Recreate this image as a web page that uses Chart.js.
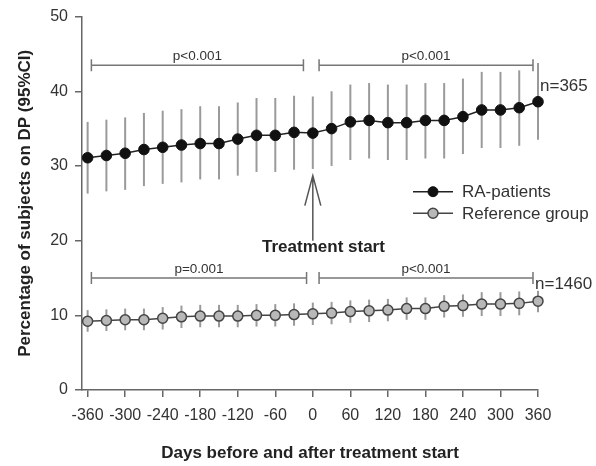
<!DOCTYPE html>
<html>
<head>
<meta charset="utf-8">
<script src="https://cdn.jsdelivr.net/npm/chart.js@4.4.1/dist/chart.umd.min.js"></script>
<style>
  html, body { margin: 0; padding: 0; background: #fff; }
  canvas { display: block; }
</style>
</head>
<body>
<canvas id="chart" width="596" height="466"></canvas>
<script>
// days relative to treatment start
const days = [-360, -330, -300, -270, -240, -210, -180, -150, -120, -90, -60, -30, 0,
              30, 60, 90, 120, 150, 180, 210, 240, 270, 300, 330, 360];

// RA-patients (% on DP, 95% CI)
const raValues = [31.1, 31.4, 31.7, 32.2, 32.5, 32.8, 33.0, 33.0, 33.6, 34.1, 34.1, 34.5, 34.4,
                  35.0, 35.9, 36.1, 35.8, 35.8, 36.1, 36.1, 36.6, 37.5, 37.5, 37.8, 38.6];
const raLower  = [26.3, 26.6, 26.8, 27.3, 27.6, 27.8, 28.2, 28.2, 28.7, 29.2, 29.2, 29.5, 29.6,
                  30.0, 30.8, 31.0, 30.8, 30.8, 31.0, 31.0, 31.6, 32.4, 32.4, 32.7, 33.5];
const raUpper  = [35.9, 36.2, 36.5, 37.1, 37.4, 37.6, 38.0, 38.0, 38.5, 39.1, 39.1, 39.4, 39.3,
                  40.0, 40.9, 41.1, 40.9, 40.9, 41.1, 41.1, 41.7, 42.6, 42.6, 42.8, 43.8];

// Reference group
const refValues = [9.2, 9.3, 9.4, 9.4, 9.6, 9.8, 9.9, 9.9, 9.9, 10.0, 10.0, 10.1, 10.2,
                   10.3, 10.5, 10.6, 10.7, 10.9, 10.9, 11.2, 11.3, 11.5, 11.5, 11.6, 11.9];
const refLower  = [7.8, 7.9, 8.0, 8.0, 8.1, 8.3, 8.4, 8.4, 8.4, 8.5, 8.5, 8.6, 8.7,
                   8.8, 9.0, 9.1, 9.2, 9.4, 9.4, 9.7, 9.8, 9.9, 9.9, 10.0, 10.4];
const refUpper  = [10.7, 10.8, 10.9, 10.9, 11.1, 11.3, 11.4, 11.4, 11.4, 11.5, 11.5, 11.6, 11.7,
                   11.8, 12.0, 12.1, 12.2, 12.4, 12.4, 12.7, 12.8, 13.1, 13.1, 13.2, 13.3];

const xTicks = [-360, -300, -240, -180, -120, -60, 0, 60, 120, 180, 240, 300, 360];
const yTicks = [0, 10, 20, 30, 40, 50];

// p-value brackets (day range, y level in %)
const brackets = [
  {from: -354, to: -15, y: 43.5, label: 'p<0.001'},
  {from: 10, to: 352, y: 43.5, label: 'p<0.001'},
  {from: -354, to: -10, y: 15.0, label: 'p=0.001'},
  {from: 10, to: 352, y: 15.0, label: 'p<0.001'}
];

const FONT = '"Liberation Sans", Arial, sans-serif';
const TEXT = '#333';

const errorBars = {
  id: 'errorBars',
  beforeDatasetsDraw(chart) {
    const {ctx, scales: {x, y}} = chart;
    chart.data.datasets.forEach(ds => {
      ctx.save();
      ctx.strokeStyle = ds.errorColor;
      ctx.lineWidth = 2;
      ds.data.forEach((p, i) => {
        const px = x.getPixelForValue(p.x);
        ctx.beginPath();
        ctx.moveTo(px, y.getPixelForValue(ds.lower[i]));
        ctx.lineTo(px, y.getPixelForValue(ds.upper[i]));
        ctx.stroke();
      });
      ctx.restore();
    });
  }
};

const extras = {
  id: 'extras',
  afterDatasetsDraw(chart) {
    const {ctx, scales: {x, y}} = chart;
    ctx.save();

    // brackets with p values
    ctx.strokeStyle = '#777';
    ctx.lineWidth = 1.5;
    ctx.fillStyle = TEXT;
    ctx.font = '13.5px ' + FONT;
    ctx.textAlign = 'center';
    ctx.textBaseline = 'middle';
    brackets.forEach(b => {
      const x1 = x.getPixelForValue(b.from), x2 = x.getPixelForValue(b.to);
      const py = y.getPixelForValue(b.y);
      ctx.beginPath();
      ctx.moveTo(x1, py - 6); ctx.lineTo(x1, py + 6);
      ctx.moveTo(x1, py); ctx.lineTo(x2, py);
      ctx.moveTo(x2, py - 6); ctx.lineTo(x2, py + 6);
      ctx.stroke();
      ctx.fillText(b.label, (x1 + x2) / 2, py - 8.5);
    });

    // n labels next to last points
    const last = days.length - 1;
    ctx.font = '17px ' + FONT;
    ctx.textAlign = 'left';
    ctx.fillText('n=365', x.getPixelForValue(days[last]) + 2, y.getPixelForValue(raValues[last]) - 15);
    ctx.fillText('n=1460', x.getPixelForValue(days[last]) - 3, y.getPixelForValue(refValues[last]) - 17);

    // treatment start arrow
    const ax = x.getPixelForValue(0);
    const tip = y.getPixelForValue(28.7);
    ctx.strokeStyle = '#555';
    ctx.lineWidth = 1.5;
    ctx.beginPath();
    ctx.moveTo(ax, tip); ctx.lineTo(ax, y.getPixelForValue(20.0));
    ctx.moveTo(ax - 8, tip + 30); ctx.lineTo(ax, tip); ctx.lineTo(ax + 8, tip + 30);
    ctx.stroke();
    ctx.font = 'bold 17px ' + FONT;
    ctx.textAlign = 'center';
    ctx.fillStyle = '#222';
    ctx.fillText('Treatment start', x.getPixelForValue(17), y.getPixelForValue(19.1));

    // legend
    const items = chart.data.datasets;
    items.forEach((ds, i) => {
      const cy = 191.7 + i * 21.6;
      ctx.strokeStyle = ds.borderColor;
      ctx.lineWidth = 1.5;
      ctx.beginPath();
      ctx.moveTo(413, cy); ctx.lineTo(453, cy);
      ctx.stroke();
      ctx.beginPath();
      ctx.arc(433, cy, 5, 0, Math.PI * 2);
      ctx.fillStyle = ds.pointBackgroundColor;
      ctx.fill();
      ctx.lineWidth = ds.pointBorderWidth;
      ctx.strokeStyle = ds.pointBorderColor;
      ctx.stroke();
      ctx.fillStyle = TEXT;
      ctx.font = '17px ' + FONT;
      ctx.textAlign = 'left';
      ctx.fillText(ds.label, 462, cy + 1);
    });
    ctx.restore();
  }
};

new Chart(document.getElementById('chart'), {
  type: 'line',
  data: {
    datasets: [{
      label: 'RA-patients',
      data: days.map((d, i) => ({x: d, y: raValues[i]})),
      lower: raLower,
      upper: raUpper,
      errorColor: '#9a9a9a',
      borderColor: '#222',
      borderWidth: 1.5,
      pointRadius: 5.3,
      pointBackgroundColor: '#111',
      pointBorderColor: '#111',
      pointBorderWidth: 1,
      clip: false
    }, {
      label: 'Reference group',
      data: days.map((d, i) => ({x: d, y: refValues[i]})),
      lower: refLower,
      upper: refUpper,
      errorColor: '#9a9a9a',
      borderColor: '#444',
      borderWidth: 1.5,
      pointRadius: 5,
      pointBackgroundColor: '#b8b8b8',
      pointBorderColor: '#444',
      pointBorderWidth: 1.5,
      clip: false
    }]
  },
  options: {
    responsive: false,
    animation: false,
    layout: {padding: {left: 0, right: 58, top: 15, bottom: 0}},
    plugins: {legend: {display: false}, tooltip: {enabled: false}},
    scales: {
      x: {
        type: 'linear',
        min: -369,
        max: 360,
        afterBuildTicks: s => { s.ticks = xTicks.map(v => ({value: v})); },
        afterFit: s => { s.height = 76; },
        grid: {drawOnChartArea: false, tickLength: 7, color: '#666', lineWidth: 1.5},
        border: {color: '#666', width: 1.5},
        ticks: {color: TEXT, font: {family: FONT, size: 16}, padding: 9, maxRotation: 0, autoSkip: false},
        title: {display: true, text: 'Days before and after treatment start', color: '#222',
                font: {family: FONT, size: 17, weight: 'bold'}, padding: {top: 0, bottom: 2.5}}
      },
      y: {
        min: 0,
        max: 50,
        afterBuildTicks: s => { s.ticks = yTicks.map(v => ({value: v})); },
        afterFit: s => { s.width = 82; },
        grid: {drawOnChartArea: false, tickLength: 7, color: '#666', lineWidth: 1.5},
        border: {color: '#666', width: 1.5},
        ticks: {color: TEXT, font: {family: FONT, size: 16}, padding: 7},
        title: {display: true, text: 'Percentage of subjects on DP (95%CI)', color: '#222',
                font: {family: FONT, size: 17, weight: 'bold'}, padding: {top: 15, bottom: 0}}
      }
    }
  },
  plugins: [errorBars, extras]
});
</script>
</body>
</html>
